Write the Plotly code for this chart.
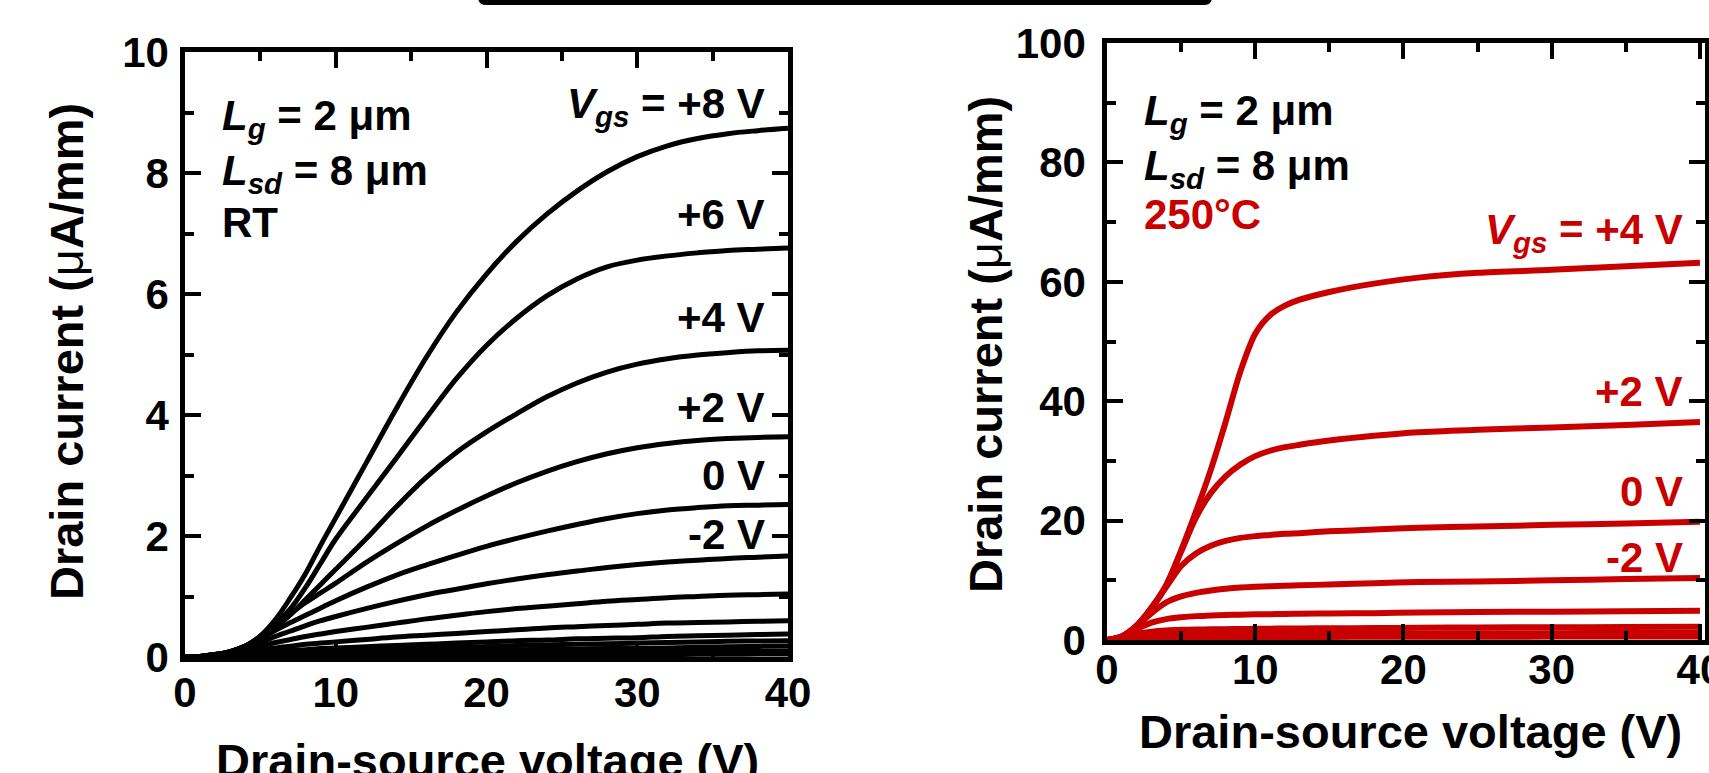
import plotly.graph_objects as go

W, H = 1709, 773

# ---------------- data: room temperature (left) ----------------
vds_rt = [0, 1, 2, 3, 4, 5, 6, 7, 8, 9, 10, 12, 14, 16, 18, 20, 22, 24, 26, 28, 30, 32, 34, 36, 38, 40]
id_rt = {
    "+8": [0, 0.01, 0.04, 0.09, 0.18, 0.35, 0.62, 0.98, 1.38, 1.85, 2.3, 3.2, 4.1, 4.95, 5.7, 6.33, 6.87, 7.32, 7.7, 8.02, 8.27, 8.45, 8.57, 8.65, 8.7, 8.74],
    "+6": [0, 0.01, 0.04, 0.09, 0.18, 0.34, 0.55, 0.8, 1.15, 1.55, 1.95, 2.62, 3.28, 3.95, 4.6, 5.15, 5.6, 5.97, 6.25, 6.45, 6.56, 6.63, 6.68, 6.72, 6.74, 6.76],
    "+4": [0, 0.01, 0.04, 0.09, 0.18, 0.33, 0.5, 0.7, 0.95, 1.2, 1.45, 1.95, 2.48, 2.97, 3.38, 3.72, 4.02, 4.3, 4.53, 4.71, 4.84, 4.93, 4.99, 5.03, 5.06, 5.07],
    "+2": [0, 0.01, 0.04, 0.09, 0.18, 0.32, 0.5, 0.71, 0.9, 1.06, 1.22, 1.56, 1.87, 2.16, 2.42, 2.66, 2.88, 3.07, 3.23, 3.36, 3.46, 3.53, 3.58, 3.61, 3.63, 3.64],
    "0": [0, 0.01, 0.04, 0.09, 0.17, 0.3, 0.44, 0.57, 0.69, 0.81, 0.93, 1.15, 1.35, 1.52, 1.68, 1.83, 1.96, 2.08, 2.19, 2.29, 2.37, 2.43, 2.47, 2.5, 2.51, 2.52],
    "-2": [0, 0.01, 0.03, 0.08, 0.15, 0.24, 0.34, 0.43, 0.52, 0.6, 0.67, 0.8, 0.92, 1.03, 1.12, 1.21, 1.29, 1.36, 1.42, 1.48, 1.53, 1.57, 1.6, 1.63, 1.65, 1.67],
    "-4": [0, 0.01, 0.03, 0.07, 0.12, 0.18, 0.24, 0.29, 0.34, 0.38, 0.42, 0.49, 0.56, 0.63, 0.69, 0.75, 0.8, 0.84, 0.88, 0.92, 0.95, 0.98, 1.0, 1.02, 1.03, 1.04],
    "-6": [0, 0.0, 0.02, 0.05, 0.08, 0.12, 0.15, 0.18, 0.21, 0.23, 0.25, 0.29, 0.33, 0.36, 0.39, 0.42, 0.45, 0.48, 0.5, 0.52, 0.54, 0.56, 0.57, 0.58, 0.59, 0.6],
    "-8": [0, 0.0, 0.01, 0.03, 0.05, 0.07, 0.09, 0.11, 0.12, 0.14, 0.15, 0.17, 0.19, 0.21, 0.23, 0.25, 0.27, 0.28, 0.3, 0.31, 0.32, 0.34, 0.35, 0.36, 0.37, 0.38],
    "-10": [0, 0.0, 0.01, 0.02, 0.03, 0.05, 0.06, 0.07, 0.08, 0.09, 0.1, 0.11, 0.13, 0.14, 0.16, 0.17, 0.19, 0.2, 0.21, 0.22, 0.23, 0.24, 0.25, 0.26, 0.265, 0.27],
    "-12": [0, 0.0, 0.0, 0.01, 0.02, 0.03, 0.04, 0.05, 0.05, 0.06, 0.06, 0.07, 0.08, 0.09, 0.1, 0.11, 0.12, 0.125, 0.13, 0.14, 0.145, 0.15, 0.16, 0.17, 0.175, 0.18],
    "-14": [0, 0.0, 0.0, 0.01, 0.01, 0.02, 0.02, 0.03, 0.03, 0.03, 0.04, 0.04, 0.05, 0.05, 0.06, 0.06, 0.07, 0.07, 0.075, 0.08, 0.08, 0.085, 0.09, 0.09, 0.095, 0.1],
    "-16": [0, 0.0, 0.0, 0.0, 0.01, 0.01, 0.01, 0.01, 0.01, 0.02, 0.02, 0.02, 0.02, 0.02, 0.03, 0.03, 0.03, 0.03, 0.035, 0.04, 0.04, 0.04, 0.045, 0.045, 0.05, 0.05],
}

# ---------------- data: 250 C (right) ----------------
vds_ht = [0, 1, 2, 3, 4, 5, 6, 7, 8, 9, 10, 11, 12, 13, 15, 18, 21, 25, 30, 35, 40]
id_ht = {
    "+4": [0, 0.6, 2.4, 5.4, 9.2, 15.0, 21.5, 28.5, 36.5, 45.0, 51.3, 54.4, 56.0, 57.0, 58.3, 59.7, 60.7, 61.5, 62.0, 62.6, 63.2],
    "+2": [0, 0.6, 2.4, 5.4, 9.2, 14.8, 20.5, 24.6, 27.4, 29.4, 30.8, 31.7, 32.3, 32.7, 33.4, 34.2, 34.8, 35.2, 35.6, 36.0, 36.5],
    "0": [0, 0.6, 2.4, 5.3, 8.9, 12.4, 14.5, 15.8, 16.6, 17.1, 17.4, 17.6, 17.8, 17.9, 18.2, 18.5, 18.8, 19.0, 19.3, 19.5, 19.8],
    "-2": [0, 0.6, 2.3, 4.5, 6.3, 7.3, 7.9, 8.3, 8.6, 8.8, 8.9, 9.0, 9.1, 9.15, 9.3, 9.5, 9.7, 9.8, 10.0, 10.2, 10.4],
    "-4": [0, 0.5, 1.8, 2.9, 3.5, 3.8, 4.0, 4.1, 4.2, 4.25, 4.3, 4.33, 4.36, 4.4, 4.45, 4.5, 4.6, 4.7, 4.75, 4.8, 4.9],
    "-6": [0, 0.4, 1.0, 1.4, 1.6, 1.7, 1.75, 1.8, 1.82, 1.85, 1.87, 1.9, 1.92, 1.94, 1.97, 2.0, 2.05, 2.1, 2.13, 2.17, 2.2],
    "-8": [0, 0.3, 0.6, 0.8, 0.9, 0.95, 0.98, 1.0, 1.01, 1.02, 1.03, 1.04, 1.05, 1.06, 1.07, 1.08, 1.1, 1.12, 1.14, 1.17, 1.2],
    "-10": [0, 0.2, 0.35, 0.4, 0.43, 0.45, 0.46, 0.47, 0.48, 0.49, 0.5, 0.5, 0.51, 0.51, 0.52, 0.53, 0.54, 0.55, 0.57, 0.58, 0.6],
}

x_ticks = [0, 10, 20, 30, 40]
y_ticks_rt = [0, 2, 4, 6, 8, 10]
y_ticks_ht = [0, 20, 40, 60, 80, 100]

RED = "#C80000"
FONT = "Arial, Liberation Sans, sans-serif"

fig = go.Figure()
for k, ys in id_rt.items():
    fig.add_trace(go.Scatter(x=vds_rt, y=ys, mode="lines", line=dict(color="black", width=5, shape="spline", smoothing=1.0),
                             xaxis="x", yaxis="y", showlegend=False, hoverinfo="skip"))
for k, ys in id_ht.items():
    fig.add_trace(go.Scatter(x=vds_ht, y=ys, mode="lines", line=dict(color=RED, width=6, shape="spline", smoothing=0.8),
                             xaxis="x2", yaxis="y2", showlegend=False, hoverinfo="skip"))


def px(p):
    return p / W


def py(p):
    return 1 - p / H


tickfont = dict(family=FONT, size=42, color="black", weight="bold")
axis_common = dict(showline=True, linewidth=4.5, linecolor="black", mirror="ticks", ticks="inside",
                   ticklen=16, tickwidth=4, tickcolor="black", showgrid=False, zeroline=False,
                   tickfont=tickfont, fixedrange=True, ticklabeloverflow="allow", automargin=False)

fig.update_layout(
    width=W, height=H, margin=dict(l=0, r=0, t=0, b=0, pad=0, autoexpand=False),
    paper_bgcolor="white", plot_bgcolor="white",
    xaxis=dict(domain=[px(185), px(788)], range=[0, 40], tickvals=x_ticks, ticktext=[str(v) for v in x_ticks],
               minor=dict(ticks="inside", ticklen=9, tickwidth=4, tickcolor="black", dtick=5, showgrid=False),
               anchor="y", ticklabelstandoff=-5, **axis_common),
    yaxis=dict(domain=[py(657), py(52)], range=[0, 10], tickvals=y_ticks_rt, ticktext=[str(v) for v in y_ticks_rt],
               minor=dict(ticks="inside", ticklen=9, tickwidth=4, tickcolor="black", dtick=1, showgrid=False),
               anchor="x", ticklabelstandoff=3, **axis_common),
    xaxis2=dict(domain=[px(1107), px(1705)], range=[0, 40.34], tickvals=x_ticks, ticktext=[str(v) for v in x_ticks],
                minor=dict(ticks="inside", ticklen=9, tickwidth=4, tickcolor="black", dtick=5, showgrid=False),
                anchor="y2", ticklabelstandoff=-11, **axis_common),
    yaxis2=dict(domain=[py(640), py(43)], range=[0, 100], tickvals=y_ticks_ht, ticktext=[str(v) for v in y_ticks_ht],
                minor=dict(ticks="inside", ticklen=9, tickwidth=4, tickcolor="black", dtick=10, showgrid=False),
                anchor="x2", ticklabelstandoff=8, **axis_common),
)

ann_font = dict(family=FONT, size=42, color="black", weight="bold")
title_font = dict(family=FONT, size=47, color="black", weight="bold")
red_font = dict(family=FONT, size=42, color=RED, weight="bold")

anns = []


def add(text, x, y, font, xanchor="left", yanchor="middle", angle=0):
    anns.append(dict(text=text, x=px(x), y=py(y), xref="paper", yref="paper", showarrow=False,
                     xanchor=xanchor, yanchor=yanchor, font=font, textangle=angle, borderpad=0))


LG = "<i>L</i><sub><i>g</i></sub> = 2 μm"
LSD = "<i>L</i><sub><i>sd</i></sub> = 8 μm"

# left panel text
add(LG, 221, 118, ann_font)
add(LSD, 221, 173, ann_font)
add("RT", 221, 222, ann_font)
add("<i>V</i><sub><i>gs</i></sub> = +8 V", 766, 106, ann_font, xanchor="right")
add("+6 V", 766, 215, ann_font, xanchor="right")
add("+4 V", 766, 318, ann_font, xanchor="right")
add("+2 V", 766, 407, ann_font, xanchor="right")
add("0 V", 766, 475, ann_font, xanchor="right")
add("-2 V", 766, 534, ann_font, xanchor="right")

# right panel text
add(LG, 1143, 114, ann_font)
add(LSD, 1143, 168, ann_font)
add("250°C", 1143, 214, red_font)
add("<i>V</i><sub><i>gs</i></sub> = +4 V", 1684, 232, red_font, xanchor="right")
add("+2 V", 1684, 391, red_font, xanchor="right")
add("0 V", 1684, 491, red_font, xanchor="right")
add("-2 V", 1684, 557, red_font, xanchor="right")

# axis titles
YT = "Drain current (<span style=\"font-weight:normal\">μ</span>A/mm)"
add(YT, 66, 352, title_font, xanchor="center", angle=-90)
add(YT, 986, 345, title_font, xanchor="center", angle=-90)
add("Drain-source voltage (V)", 487, 760, title_font, xanchor="center")
add("Drain-source voltage (V)", 1410, 731, title_font, xanchor="center")

fig.update_layout(annotations=anns)

# top bar (bottom edge of a rounded frame)
x0, x1, yb, yt, r = 478, 1212, 5, -20, 8
path = (f"M {px(x0)},{py(yt)} L {px(x0)},{py(yb - r)} Q {px(x0)},{py(yb)} {px(x0 + r)},{py(yb)} "
        f"L {px(x1 - r)},{py(yb)} Q {px(x1)},{py(yb)} {px(x1)},{py(yb - r)} L {px(x1)},{py(yt)} Z")
fig.add_shape(type="path", path=path, xref="paper", yref="paper", fillcolor="black", line=dict(width=0))

fig.write_html("out.html")
